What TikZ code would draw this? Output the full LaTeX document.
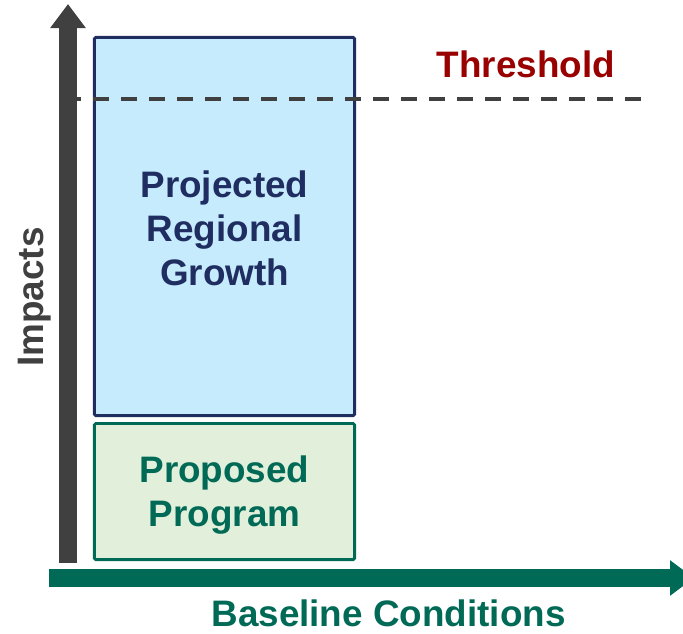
\documentclass[tikz,border=0pt]{standalone}
\usepackage{fontspec}
\setmainfont{Liberation Sans}
\usetikzlibrary{positioning,arrows.meta}
\definecolor{axisgray}{RGB}{64,64,64}
\definecolor{baselinegreen}{RGB}{0,106,86}
\definecolor{growthnavy}{RGB}{31,45,96}
\definecolor{growthfill}{RGB}{197,235,253}
\definecolor{programgreen}{RGB}{0,106,86}
\definecolor{programfill}{RGB}{226,239,218}
\definecolor{thresholdred}{RGB}{153,0,0}

\begin{document}
\begin{tikzpicture}[x=0.025cm, y=-0.025cm,
    every node/.style={font=\fontsize{26.2}{31.2}\selectfont\bfseries, align=center},
    box/.style={draw, line width=2.1pt, rounded corners=1pt, minimum width=6.5cm, inner sep=0pt},
    axis/.style={line width=12.8pt, -{Triangle[length=0.6cm, width=0.85cm]}}]
    \useasboundingbox (0,0) rectangle (683,633);
    \clip (0,0) rectangle (683,633);

    % Boxes
    \node (growth) [box, draw=growthnavy, fill=growthfill, text=growthnavy, minimum height=9.45cm] at (224.5,226.5) {\rule{0pt}{22pt}Projected\\Regional\\Growth};
    \node (program) [box, below=0.125cm of growth, draw=programgreen, fill=programfill, text=programgreen, minimum height=3.4cm] {\rule{0pt}{24.5pt}Proposed\\Program};

    % Threshold
    \coordinate (thrstart) at (65,99);
    \coordinate (thrend) at (641,99);
    \draw[axisgray, line width=2.85pt, dash pattern=on 0.4cm off 0.3cm] (thrstart) -- (thrend);
    \node (threshold) [text=thresholdred, anchor=base] at (526,77) {Threshold};

    % Axes
    \coordinate (origin) at (68,563);
    \coordinate (ytip) at (68,4);
    \coordinate (xstart) at (49,578);
    \coordinate (xtip) at (694,578);
    \draw[axis, axisgray] (origin) -- (ytip);
    \draw[axis, baselinegreen] (xstart) -- (xtip);
    \node (impacts) [text=axisgray, rotate=90, anchor=base] at (44,297) {Impacts};
    \node (baseline) [text=baselinegreen, anchor=base] at (388.5,626) {Baseline Conditions};
\end{tikzpicture}
\end{document}
